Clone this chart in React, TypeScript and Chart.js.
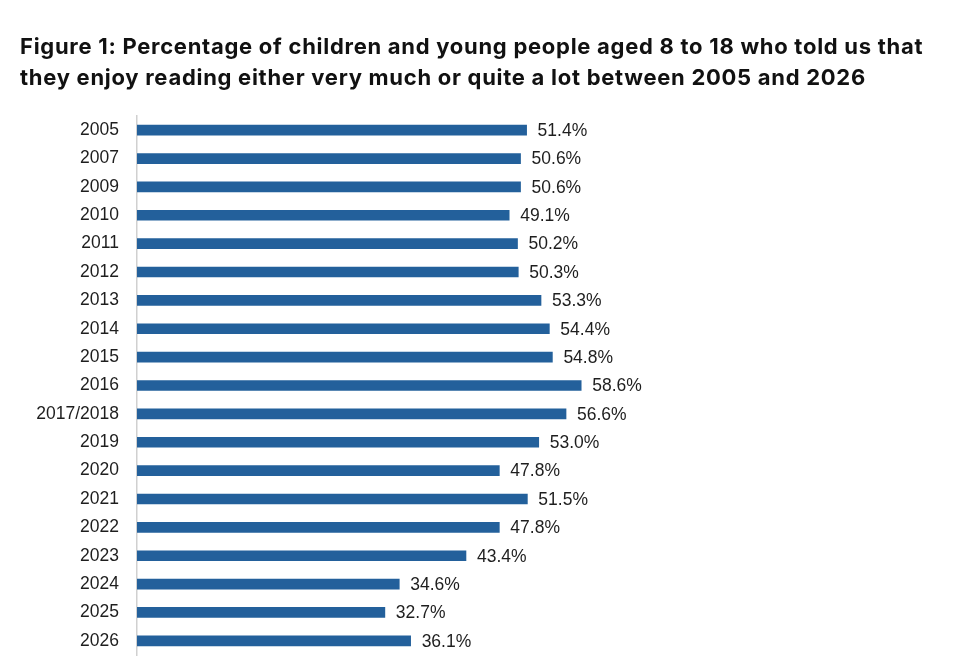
import React, { useEffect, useRef } from "react";
import { Chart, registerables } from "chart.js";

Chart.register(...registerables);

const TITLE_LINE_1 = "Figure 1: Percentage of children and young people aged 8 to 18 who told us that";
const TITLE_LINE_2 = "they enjoy reading either very much or quite a lot between 2005 and 2026";

const categories = [
  "2005", "2007", "2009", "2010", "2011", "2012", "2013", "2014", "2015", "2016",
  "2017/2018", "2019", "2020", "2021", "2022", "2023", "2024", "2025", "2026",
];
const values = [
  51.4, 50.6, 50.6, 49.1, 50.2, 50.3, 53.3, 54.4, 54.8, 58.6,
  56.6, 53.0, 47.8, 51.5, 47.8, 43.4, 34.6, 32.7, 36.1,
];

const BAR_COLOR = "#23609b";
const TEXT_COLOR = "#1e1e1e";
const FONT_FAMILY = "'Liberation Sans', Arial, sans-serif";

const valueLabels = {
  id: "valueLabels",
  afterDatasetsDraw(chart: any) {
    const ctx = chart.ctx;
    const meta = chart.getDatasetMeta(0);
    ctx.save();
    ctx.font = "17.5px " + FONT_FAMILY;
    ctx.fillStyle = TEXT_COLOR;
    ctx.textAlign = "left";
    ctx.textBaseline = "middle";
    meta.data.forEach((bar: any, i: number) => {
      ctx.fillText(values[i].toFixed(1) + "%", bar.x + 11, bar.y + 1);
    });
    ctx.restore();
  },
};

export default function App() {
  const canvasRef = useRef<HTMLCanvasElement | null>(null);

  useEffect(() => {
    if (!canvasRef.current) return;
    const chart = new Chart(canvasRef.current, {
      type: "bar",
      data: {
        labels: categories,
        datasets: [
          {
            data: values,
            backgroundColor: BAR_COLOR,
            borderWidth: 0,
            barThickness: 10,
          },
        ],
      },
      options: {
        indexAxis: "y",
        animation: false,
        responsive: false,
        maintainAspectRatio: false,
        layout: { padding: { top: 116, bottom: 16, left: 0, right: 65 } },
        plugins: {
          legend: { display: false },
          tooltip: { enabled: false },
          title: { display: false },
        },
        scales: {
          x: {
            display: false,
            min: 0,
            max: 100,
          },
          y: {
            grid: { display: false, drawTicks: false },
            border: { display: true, color: "#d0d0d0", width: 1.5 },
            ticks: {
              color: TEXT_COLOR,
              padding: 18,
              font: { family: FONT_FAMILY, size: 17.5 },
            },
            afterFit(scale: any) {
              scale.width = 137;
              scale.paddingTop = 0;
              scale.paddingBottom = 0;
            },
          },
        },
      },
      plugins: [valueLabels],
    });
    return () => chart.destroy();
  }, []);

  return (
    <div style={{ position: "fixed", left: 0, top: 0, width: 960, height: 671, background: "#fff" }}>
      <canvas
        ref={canvasRef}
        width={960}
        height={671}
        style={{ position: "absolute", left: 0, top: 0, width: 960, height: 671 }}
      />
      <div
        style={{
          position: "absolute",
          left: 20,
          top: 31,
          fontFamily: "Inter, 'Noto Sans', sans-serif",
          fontWeight: 700,
          fontSize: 22,
          letterSpacing: "0.72px",
          lineHeight: "31px",
          color: "#111",
          whiteSpace: "nowrap",
        }}
      >
        <div>{TITLE_LINE_1}</div>
        <div>{TITLE_LINE_2}</div>
      </div>
    </div>
  );
}
